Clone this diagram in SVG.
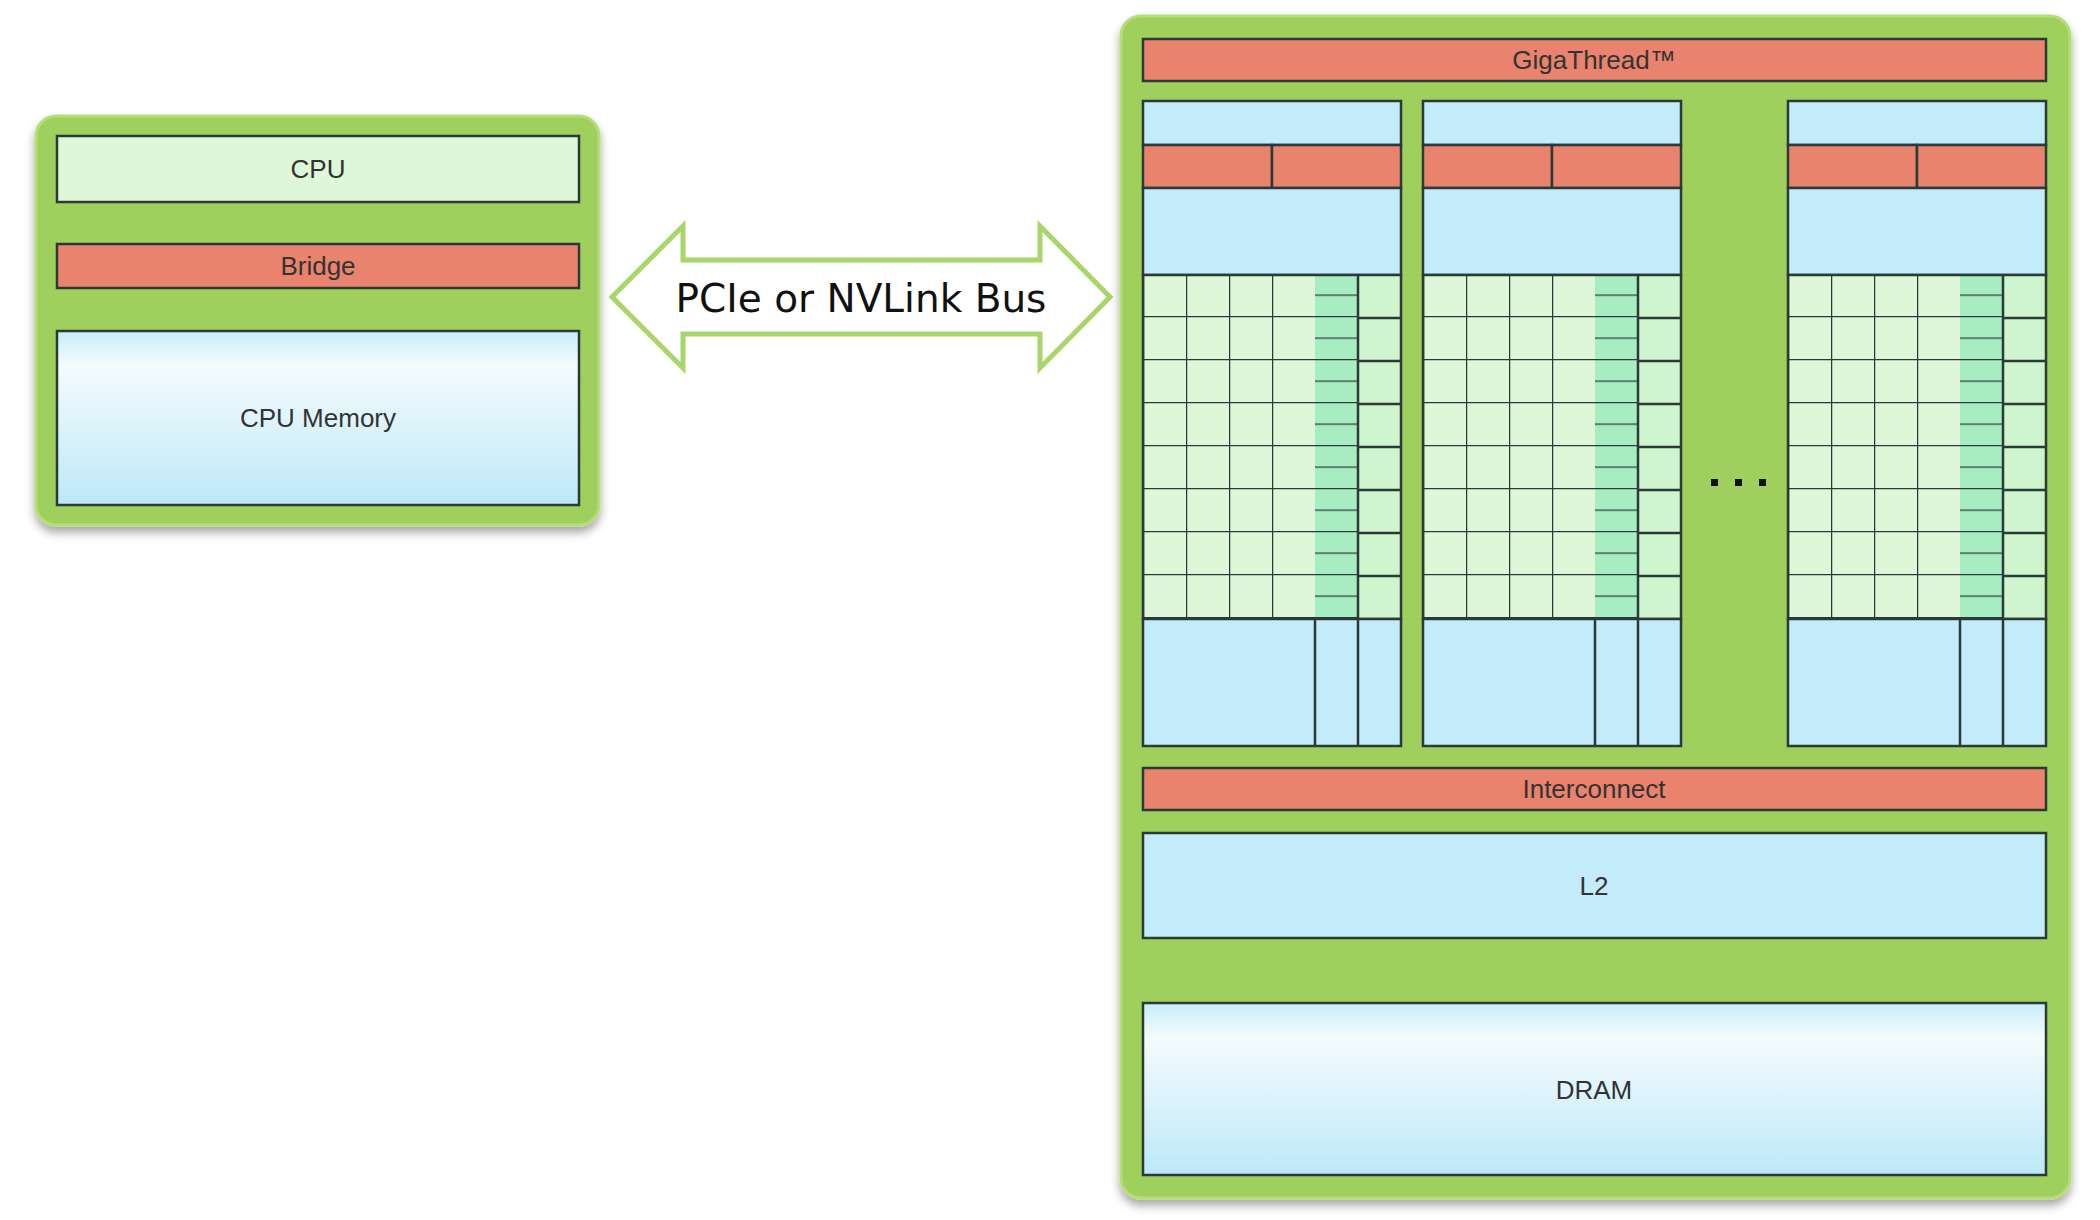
<svg xmlns="http://www.w3.org/2000/svg" width="2100" height="1220" viewBox="0 0 2100 1220">
<style>
.box{fill:#9fcf5c;stroke:#b5dd78;stroke-width:3}
.s{stroke:#2a3a38;stroke-width:2.5}
.red{fill:#ea836d}
.blue{fill:#c3ebf9}
.t{font-family:"Liberation Sans",Arial,sans-serif;font-size:26px;fill:#333;text-anchor:middle}
</style>
<defs>
<filter id="sh" x="-5%" y="-5%" width="110%" height="110%"><feDropShadow dx="0" dy="6" stdDeviation="5" flood-color="#000" flood-opacity="0.35"/></filter>
<linearGradient id="mem" x1="0" y1="0" x2="0" y2="1"><stop offset="0" stop-color="#c7edf8"/><stop offset="0.2" stop-color="#f4fbfd"/><stop offset="1" stop-color="#bde8f8"/></linearGradient>
<pattern id="cell" patternUnits="userSpaceOnUse" width="43" height="43"><rect width="43" height="43" fill="#dff7d9"/><path d="M0 0H43M0 0V43" stroke="#2a3a38" stroke-width="2.5" fill="none"/></pattern>
<pattern id="mint" patternUnits="userSpaceOnUse" width="43" height="21.5"><rect width="43" height="21.5" fill="#a8ecc2"/><path d="M0 0H43" stroke="#2a3a38" stroke-width="2.5"/></pattern>
<g id="sm">
<rect x="0" y="0" width="258" height="44" class="blue s"/>
<rect x="0" y="44" width="129" height="43" class="red s"/>
<rect x="129" y="44" width="129" height="43" class="red s"/>
<rect x="0" y="87" width="258" height="87" class="blue s"/>
<rect x="0" y="174" width="172" height="344" fill="url(#cell)"/>
<rect x="172" y="174" width="43" height="344" fill="url(#mint)"/>
<rect x="215" y="174" width="43" height="344" fill="#cff5cf"/>
<path d="M215 174V518M215 217H258M215 260H258M215 303H258M215 346H258M215 389H258M215 432H258M215 475H258" class="s" fill="none"/>
<rect x="0" y="174" width="258" height="344" fill="none" class="s"/>
<rect x="0" y="518" width="258" height="127" class="blue s"/>
<path d="M172 518V645M215 518V645" class="s"/>
</g>
</defs>

<g id="host">
<rect x="36" y="116" width="563" height="409" rx="20" class="box" filter="url(#sh)"/>
<g id="cpu"><rect x="57" y="136" width="522" height="66" fill="#dff7d9" class="s"/><text x="318" y="178" class="t">CPU</text></g>
<g id="bridge"><rect x="57" y="244" width="522" height="44" class="red s"/><text x="318" y="275" class="t">Bridge</text></g>
<g id="cpumem"><rect x="57" y="331" width="522" height="174" fill="url(#mem)" class="s"/><text x="318" y="427" class="t">CPU Memory</text></g>
</g>

<g id="connectors">
<path d="M612 297L683 226V260H1040V226L1110 297L1040 368V334H683V368Z" fill="#fff" stroke="#a8d66a" stroke-width="5" stroke-linejoin="miter"/>
<text x="861" y="312" font-family="DejaVu Sans,Verdana,sans-serif" font-size="39" fill="#111" text-anchor="middle">PCIe or NVLink Bus</text>
</g>

<g id="gpu">
<rect x="1121" y="16" width="949" height="1182" rx="20" class="box" filter="url(#sh)"/>
<g id="gigathread"><rect x="1143" y="39" width="903" height="42" class="red s"/><text x="1594" y="69" class="t">GigaThread™</text></g>
<g id="sm1"><use href="#sm" x="1143" y="101"/></g>
<g id="sm2"><use href="#sm" x="1423" y="101"/></g>
<g id="sm3"><use href="#sm" x="1788" y="101"/></g>
<g id="dots"><rect x="1711" y="479" width="7" height="7" fill="#111"/><rect x="1735" y="479" width="7" height="7" fill="#111"/><rect x="1759" y="479" width="7" height="7" fill="#111"/></g>
<g id="interconnect"><rect x="1143" y="768" width="903" height="42" class="red s"/><text x="1594" y="798" class="t">Interconnect</text></g>
<g id="l2"><rect x="1143" y="833" width="903" height="105" class="blue s"/><text x="1594" y="895" class="t">L2</text></g>
<g id="dram"><rect x="1143" y="1003" width="903" height="172" fill="url(#mem)" class="s"/><text x="1594" y="1099" class="t">DRAM</text></g>
</g>
</svg>
